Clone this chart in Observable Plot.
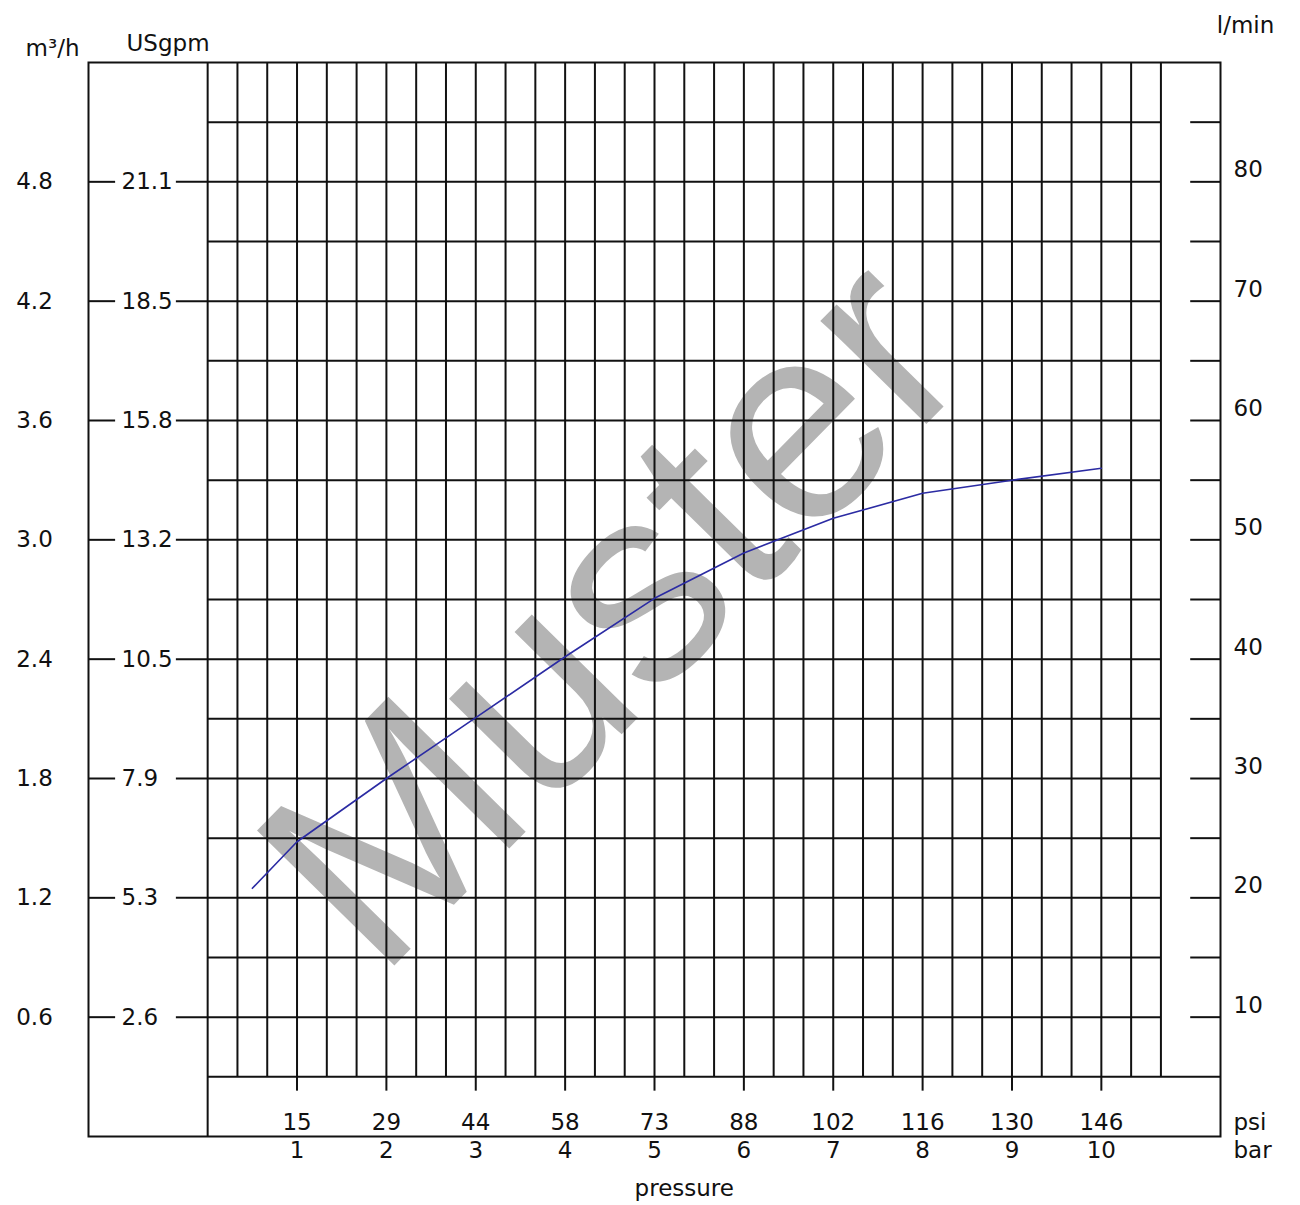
<!DOCTYPE html>
<html><head><meta charset="utf-8">
<script src="https://cdn.jsdelivr.net/npm/d3@7"></script>
<script src="https://cdn.jsdelivr.net/npm/@observablehq/plot@0.6"></script>
<style>body{margin:0;background:#fff} svg{display:block}</style>
</head><body><div id="chart"></div>
<script>
// Pump curve: flow (l/min) vs pressure (bar)
const pressureBar = [0.5, 1, 2, 3, 4, 5, 6, 7, 8, 9, 10];
const flowLmin   = [20.8, 24.7, 30.0, 35.1, 40.2, 45.1, 48.9, 51.8, 53.9, 55.0, 56.0];

// Axis labels
const barTicks   = [1, 2, 3, 4, 5, 6, 7, 8, 9, 10];
const psiLabels  = ["15", "29", "44", "58", "73", "88", "102", "116", "130", "146"];
const lminTicks  = [10, 20, 30, 40, 50, 60, 70, 80];
const m3hLabels  = ["0.6", "1.2", "1.8", "2.4", "3.0", "3.6", "4.2", "4.8"];
const usgpmLabels = ["2.6", "5.3", "7.9", "10.5", "13.2", "15.8", "18.5", "21.1"];
const watermark  = [{label: "Muster", bar: 4.55, lmin: 43.8}];

// Chart structure (units: bar on x, l/min on y)
const xMin = -4/3, xMax = 34/3, gridRight = 32/3;
const yMin = 0, yMax = 90, gridBottom = 5;
const gridX = d3.range(1, 33).map(k => k / 3);
const gridY = d3.range(10, 90, 5);

const curve = pressureBar.map((b, i) => ({bar: b, flow: flowLmin[i]}));
const ink = "#111";
const sw = 2;
const fs = 23;

const chart = Plot.plot({
  width: 1300, height: 1205,
  marginLeft: 88, marginRight: 80, marginTop: 62, marginBottom: 69,
  x: {domain: [xMin, xMax], axis: null},
  y: {domain: [yMin, yMax], axis: null},
  style: {fontFamily: "DejaVu Sans", fontSize: fs + "px", background: "white", color: ink},
  marks: [
    // watermark (below grid)
    Plot.text(watermark, {x: "bar", y: "lmin", text: "label", rotate: -45.5,
      fontSize: 280, fill: "#b4b4b4", fontFamily: "Liberation Sans, Arial, sans-serif"}),
    // grid
    Plot.ruleX(gridX, {y1: gridBottom, y2: yMax, stroke: ink, strokeWidth: sw}),
    Plot.ruleX([0], {y1: yMin, y2: yMax, stroke: ink, strokeWidth: sw}),
    Plot.ruleY(gridY, {x1: 0, x2: gridRight, stroke: ink, strokeWidth: sw}),
    Plot.ruleY([gridBottom], {x1: 0, x2: xMax, stroke: ink, strokeWidth: sw}),
    Plot.frame({stroke: ink, strokeWidth: sw}),
    // left tick segments (around USgpm labels)
    Plot.ruleY(lminTicks, {x1: xMin, x2: -1.03, stroke: ink, strokeWidth: sw}),
    Plot.ruleY(lminTicks, {x1: -0.35, x2: 0, stroke: ink, strokeWidth: sw}),
    // right ticks
    Plot.ruleY(gridY, {x1: 11, x2: xMax, stroke: ink, strokeWidth: sw}),
    // bottom ticks
    Plot.ruleX(barTicks, {y1: gridBottom, y2: 3.8, stroke: ink, strokeWidth: sw}),
    // left labels
    Plot.text(m3hLabels, {x: () => xMin, y: (d, i) => lminTicks[i], text: d => d,
      dx: -54, textAnchor: "middle", fill: ink, fontSize: fs}),
    Plot.text(usgpmLabels, {x: () => xMin, y: (d, i) => lminTicks[i], text: d => d,
      dx: 33, textAnchor: "start", fill: ink, fontSize: fs}),
    // right labels
    Plot.text(lminTicks, {x: () => xMax, y: d => d, text: d => String(d),
      dx: 13, dy: -12, textAnchor: "start", fill: ink, fontSize: fs}),
    // bottom labels
    Plot.text(psiLabels, {x: (d, i) => barTicks[i], y: () => yMin, text: d => d,
      dy: -14, textAnchor: "middle", fill: ink, fontSize: fs}),
    Plot.text(barTicks, {x: d => d, y: () => yMin, text: d => String(d),
      dy: 14, textAnchor: "middle", fill: ink, fontSize: fs}),
    // unit titles
    Plot.text(["psi"], {x: () => xMax, y: () => yMin, text: d => d, dx: 13, dy: -14, textAnchor: "start", fill: ink, fontSize: fs}),
    Plot.text(["bar"], {x: () => xMax, y: () => yMin, text: d => d, dx: 13, dy: 14, textAnchor: "start", fill: ink, fontSize: fs}),
    Plot.text(["pressure"], {x: () => gridRight / 2, y: () => yMin, text: d => d, dy: 52, textAnchor: "middle", fill: ink, fontSize: fs}),
    Plot.text(["m³/h"], {x: () => xMin, y: () => yMax, text: d => d, dx: -36, dy: -14, textAnchor: "middle", fill: ink, fontSize: fs}),
    Plot.text(["USgpm"], {x: () => xMin, y: () => yMax, text: d => d, dx: 38, dy: -19, textAnchor: "start", fill: ink, fontSize: fs}),
    Plot.text(["l/min"], {x: () => xMax, y: () => yMax, text: d => d, dx: 25, dy: -37, textAnchor: "middle", fill: ink, fontSize: fs}),
    // pump curve
    Plot.line(curve, {x: "bar", y: "flow", stroke: "#2b2ba3", strokeWidth: 1.6})
  ]
});
document.getElementById("chart").appendChild(chart);
</script>
</body></html>
